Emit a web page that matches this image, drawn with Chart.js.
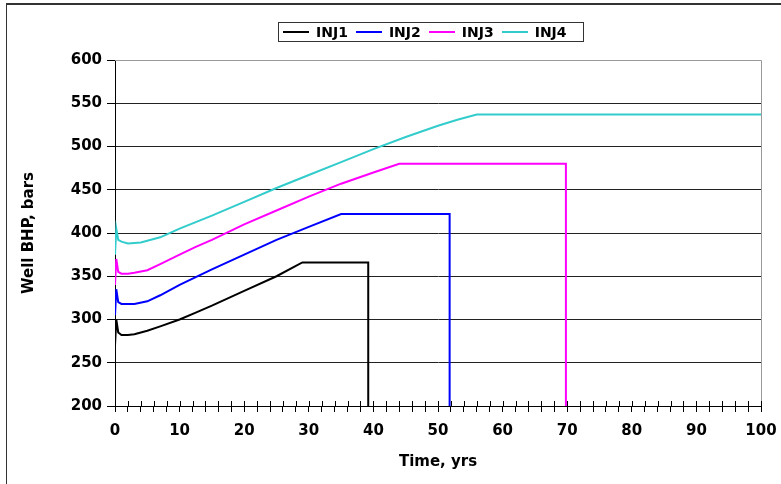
<!DOCTYPE html>
<html>
<head>
<meta charset="utf-8">
<script src="https://cdn.jsdelivr.net/npm/chart.js@4.4.1/dist/chart.umd.min.js"></script>
<style>
  body { margin: 0; background: #fff; }
  #wrap { position: relative; width: 781px; height: 484px; overflow: hidden; }
  #frameTop { position: absolute; left: 6px; top: 3px; width: 780px; height: 2px; background: #333; }
  #frameLeft { position: absolute; left: 6px; top: 3px; width: 1px; height: 490px; background: #333; }
  #legend {
    position: absolute; left: 278px; top: 22px; width: 300px; height: 18px;
    border: 1px solid #333; display: flex; align-items: center;
    font: bold 14px "DejaVu Sans", sans-serif; color: #000; padding-left: 4px; box-sizing: content-box;
  }
  #legend .ln { width: 26px; height: 2px; margin-right: 7px; }
  #legend .tx { margin-right: 8px; }
</style>
</head>
<body>
<div id="wrap">
  <canvas id="chart" width="781" height="484"></canvas>
  <div id="frameTop"></div>
  <div id="frameLeft"></div>
  <div id="legend"></div>
</div>
<script>
// series (time in years, BHP in bars)
const inj1T = [0, 0.2, 0.5, 1, 2, 3, 5, 7, 10, 12.5, 15, 20, 25, 29, 39.2, 39.2];
const inj1P = [270, 300, 285, 282, 282, 283, 287, 292, 300, 308, 316, 333, 350, 366, 366, 200];

const inj2T = [0, 0.2, 0.5, 1, 2, 3, 5, 7, 10, 12.5, 15, 20, 25, 30, 35, 51.8, 51.8];
const inj2P = [305, 335, 320, 318, 318, 318, 321, 328, 340, 349, 358, 375, 392, 407, 422, 422, 200];

const inj3T = [0, 0.2, 0.5, 1, 2, 3, 5, 7, 10, 12.5, 15, 20, 25, 30, 35, 40, 44, 69.8, 69.8];
const inj3P = [340, 370, 355, 353, 353, 354, 357, 364, 375, 384, 392, 410, 426, 442, 457, 470, 480, 480, 200];

const inj4T = [0, 0.2, 0.5, 1, 2, 4, 7, 10, 15, 20, 25, 30, 35, 40, 45, 50, 53, 56, 100];
const inj4P = [375, 405, 392, 390, 388, 389, 395, 405, 420, 436, 452, 467, 482, 497, 511, 524, 531, 537, 537];

const seriesNames = ["INJ1", "INJ2", "INJ3", "INJ4"];
const seriesColors = ["#000000", "#0000ff", "#ff00ff", "#33cccc"];
const xTicks = [0, 10, 20, 30, 40, 50, 60, 70, 80, 90, 100];
const yTicks = [200, 250, 300, 350, 400, 450, 500, 550, 600];

const allT = [inj1T, inj2T, inj3T, inj4T];
const allP = [inj1P, inj2P, inj3P, inj4P];

// legend
const legendEl = document.getElementById("legend");
seriesNames.forEach((name, i) => {
  legendEl.innerHTML += `<span class="ln" style="background:${seriesColors[i]}"></span><span class="tx">${name}</span>`;
});

const tickFont = { family: "DejaVu Sans", size: 15, weight: "bold" };

// plot box + inner half of the x ticks
const plotBox = {
  id: "plotBox",
  afterDatasetsDraw(chart) {
    const { ctx, chartArea: a, scales } = chart;
    ctx.save();
    ctx.strokeStyle = "#999";
    ctx.lineWidth = 1;
    ctx.beginPath();
    ctx.moveTo(a.left, a.top + 0.5);
    ctx.lineTo(a.right + 0.5, a.top + 0.5);
    ctx.lineTo(a.right + 0.5, a.bottom);
    ctx.stroke();
    ctx.strokeStyle = "#000";
    ctx.beginPath();
    for (let v = 0; v <= 100; v += 2) {
      const x = Math.round(scales.x.getPixelForValue(v)) + 0.5;
      ctx.moveTo(x, a.bottom - 5);
      ctx.lineTo(x, a.bottom);
    }
    ctx.stroke();
    ctx.restore();
  }
};

new Chart(document.getElementById("chart"), {
  type: "line",
  data: {
    datasets: seriesNames.map((name, i) => ({
      label: name,
      data: allT[i].map((t, j) => ({ x: t, y: allP[i][j] })),
      borderColor: seriesColors[i],
      borderWidth: 2,
      pointRadius: 0,
      tension: 0,
      fill: false
    }))
  },
  options: {
    responsive: false,
    animation: false,
    layout: { padding: { top: 60, right: 20, left: 0, bottom: 0 } },
    plugins: { legend: { display: false }, tooltip: { enabled: false } },
    scales: {
      x: {
        type: "linear",
        min: 0,
        max: 100,
        afterFit(scale) { scale.height = 78; scale.paddingRight = 0; scale.paddingLeft = 0; },
        ticks: {
          stepSize: 2,
          autoSkip: false,
          maxRotation: 0,
          padding: 10,
          color: "#000",
          font: tickFont,
          callback: v => (xTicks.includes(v) ? v : "")
        },
        grid: { drawOnChartArea: false, drawTicks: true, tickLength: 6, color: "#000" },
        border: { color: "#000", width: 1 },
        title: {
          display: true,
          text: "Time, yrs",
          color: "#000",
          font: tickFont,
          padding: { top: 0, bottom: 13 }
        }
      },
      y: {
        min: 200,
        max: 600,
        afterFit(scale) { scale.width = 115; },
        afterBuildTicks(scale) { scale.ticks = yTicks.map(v => ({ value: v })); },
        ticks: { padding: 5, color: "#000", font: tickFont },
        grid: {
          color: c => (c.tick && c.tick.value === 600 ? "#999" : "#222"),
          tickColor: "#000",
          tickLength: 8,
          lineWidth: 1
        },
        border: { color: "#000", width: 1 },
        title: {
          display: true,
          text: "Well BHP, bars",
          color: "#000",
          font: tickFont,
          padding: { top: 20, bottom: 0 }
        }
      }
    }
  },
  plugins: [plotBox]
});
</script>
</body>
</html>
